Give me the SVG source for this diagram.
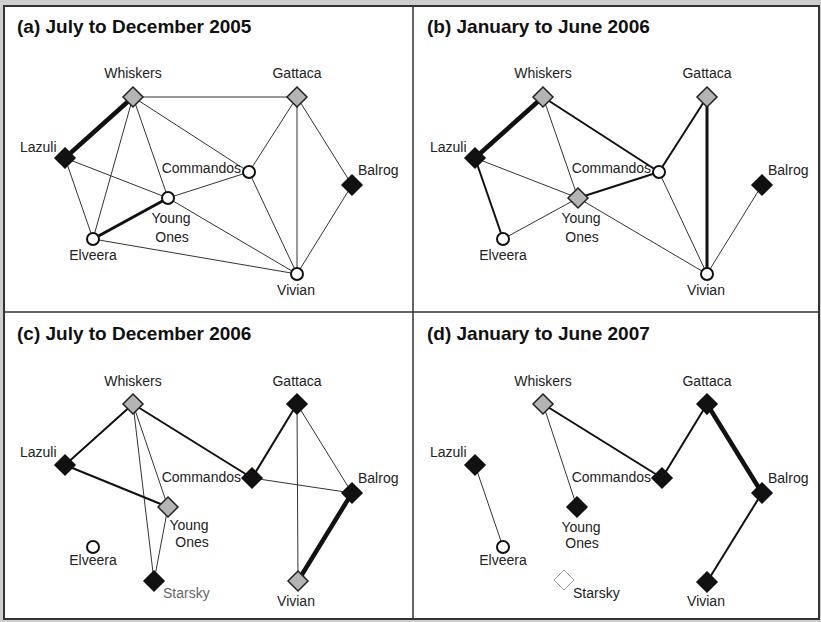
<svg xmlns="http://www.w3.org/2000/svg" xmlns:xlink="http://www.w3.org/1999/xlink" width="821" height="622" viewBox="0 0 821 622">
<style>
.title{font-family:"Liberation Sans",Arial,sans-serif;font-weight:bold;font-size:19px;fill:#111}
.lbl{font-family:"Liberation Sans",Arial,sans-serif;font-size:14px;fill:#222}
.mid{text-anchor:middle}
.end{text-anchor:end}
.faint{fill:#666}
.e1{stroke:#333;stroke-width:1;fill:none}
.e2{stroke:#111;stroke-width:2;fill:none}
.e3{stroke:#111;stroke-width:3;fill:none}
.e4{stroke:#111;stroke-width:4.5;fill:none}
.gray{fill:#b4b4b4;stroke:#222;stroke-width:1.5}
.black{fill:#111;stroke:#111;stroke-width:1.5}
.empty{fill:#fff;stroke:#999;stroke-width:1}
.ring{fill:#fff;stroke:#111;stroke-width:2}
</style>
<defs>
<path id="dia" d="M0,-10 L10,0 L0,10 L-10,0 Z"/>
</defs>
<rect x="0" y="0" width="821" height="622" fill="#cfcfcf"/>
<rect x="4" y="6" width="815" height="613" fill="#fff" stroke="#333" stroke-width="2"/>
<line x1="413" y1="6" x2="413" y2="619" stroke="#333" stroke-width="1.5"/>
<line x1="4" y1="312" x2="819" y2="312" stroke="#333" stroke-width="1.5"/>

<g id="titles">
<text class="title" x="17" y="33">(a) July to December 2005</text>
<text class="title" x="427" y="33">(b) January to June 2006</text>
<text class="title" x="17" y="340">(c) July to December 2006</text>
<text class="title" x="427" y="340">(d) January to June 2007</text>
</g>

<g id="connectors">
<!-- (a) -->
<line class="e1" x1="133" y1="97" x2="297" y2="97"/>
<line class="e4" x1="133" y1="97" x2="65" y2="158"/>
<line class="e1" x1="133" y1="97" x2="93" y2="239"/>
<line class="e1" x1="133" y1="97" x2="168" y2="198"/>
<line class="e1" x1="133" y1="97" x2="249" y2="172"/>
<line class="e1" x1="297" y1="97" x2="249" y2="172"/>
<line class="e1" x1="297" y1="97" x2="297" y2="274"/>
<line class="e1" x1="297" y1="97" x2="352" y2="185"/>
<line class="e1" x1="65" y1="158" x2="168" y2="198"/>
<line class="e1" x1="65" y1="158" x2="93" y2="239"/>
<line class="e3" x1="93" y1="239" x2="168" y2="198"/>
<line class="e1" x1="93" y1="239" x2="297" y2="274"/>
<line class="e1" x1="168" y1="198" x2="249" y2="172"/>
<line class="e1" x1="168" y1="198" x2="297" y2="274"/>
<line class="e1" x1="249" y1="172" x2="297" y2="274"/>
<line class="e1" x1="352" y1="185" x2="297" y2="274"/>
<!-- (b) -->
<line class="e4" x1="543" y1="97" x2="475" y2="158"/>
<line class="e1" x1="543" y1="97" x2="578" y2="198"/>
<line class="e2" x1="543" y1="97" x2="659" y2="172"/>
<line class="e2" x1="707" y1="97" x2="659" y2="172"/>
<line class="e3" x1="707" y1="97" x2="707" y2="274"/>
<line class="e1" x1="475" y1="158" x2="578" y2="198"/>
<line class="e2" x1="475" y1="158" x2="503" y2="239"/>
<line class="e1" x1="503" y1="239" x2="578" y2="198"/>
<line class="e2" x1="578" y1="198" x2="659" y2="172"/>
<line class="e1" x1="578" y1="198" x2="707" y2="274"/>
<line class="e1" x1="659" y1="172" x2="707" y2="274"/>
<line class="e1" x1="762" y1="185" x2="707" y2="274"/>
<!-- (c) -->
<line class="e2" x1="133" y1="404" x2="65" y2="465"/>
<line class="e2" x1="133" y1="404" x2="252" y2="478"/>
<line class="e1" x1="133" y1="404" x2="168" y2="507"/>
<line class="e1" x1="133" y1="404" x2="154" y2="581"/>
<line class="e1" x1="168" y1="507" x2="154" y2="581"/>
<line class="e2" x1="65" y1="465" x2="168" y2="507"/>
<line class="e2" x1="297" y1="404" x2="252" y2="478"/>
<line class="e1" x1="297" y1="404" x2="298" y2="581"/>
<line class="e1" x1="297" y1="404" x2="352" y2="493"/>
<line class="e1" x1="252" y1="478" x2="352" y2="493"/>
<line class="e4" x1="352" y1="493" x2="298" y2="581"/>
<!-- (d) -->
<line class="e1" x1="543" y1="404" x2="577" y2="507"/>
<line class="e2" x1="543" y1="404" x2="662" y2="478"/>
<line class="e2" x1="707" y1="404" x2="662" y2="478"/>
<line class="e4" x1="707" y1="404" x2="762" y2="493"/>
<line class="e2" x1="762" y1="493" x2="707" y2="582"/>
<line class="e1" x1="475" y1="465" x2="503" y2="547"/>
</g>

<!-- (a) nodes -->
<g id="a-whiskers"><use href="#dia" x="133" y="97" class="gray"/><text class="lbl mid" x="133" y="78">Whiskers</text></g>
<g id="a-gattaca"><use href="#dia" x="297" y="97" class="gray"/><text class="lbl mid" x="297" y="78">Gattaca</text></g>
<g id="a-lazuli"><use href="#dia" x="65" y="158" class="black"/><text class="lbl" x="20" y="152">Lazuli</text></g>
<g id="a-commandos"><circle cx="249" cy="172" r="6" class="ring"/><text class="lbl end" x="241" y="173">Commandos</text></g>
<g id="a-balrog"><use href="#dia" x="352" y="185" class="black"/><text class="lbl" x="358" y="175">Balrog</text></g>
<g id="a-youngones"><circle cx="168" cy="198" r="6" class="ring"/><text class="lbl mid" x="171" y="223">Young</text><text class="lbl mid" x="172" y="242">Ones</text></g>
<g id="a-elveera"><circle cx="93" cy="239" r="6" class="ring"/><text class="lbl mid" x="93" y="260">Elveera</text></g>
<g id="a-vivian"><circle cx="297" cy="274" r="6" class="ring"/><text class="lbl mid" x="296" y="295">Vivian</text></g>

<!-- (b) nodes -->
<g id="b-whiskers"><use href="#dia" x="543" y="97" class="gray"/><text class="lbl mid" x="543" y="78">Whiskers</text></g>
<g id="b-gattaca"><use href="#dia" x="707" y="97" class="gray"/><text class="lbl mid" x="707" y="78">Gattaca</text></g>
<g id="b-lazuli"><use href="#dia" x="475" y="158" class="black"/><text class="lbl" x="430" y="152">Lazuli</text></g>
<g id="b-commandos"><circle cx="659" cy="172" r="6" class="ring"/><text class="lbl end" x="651" y="173">Commandos</text></g>
<g id="b-balrog"><use href="#dia" x="762" y="185" class="black"/><text class="lbl" x="768" y="175">Balrog</text></g>
<g id="b-youngones"><use href="#dia" x="578" y="198" class="gray"/><text class="lbl mid" x="581" y="223">Young</text><text class="lbl mid" x="582" y="242">Ones</text></g>
<g id="b-elveera"><circle cx="503" cy="239" r="6" class="ring"/><text class="lbl mid" x="503" y="260">Elveera</text></g>
<g id="b-vivian"><circle cx="707" cy="274" r="6" class="ring"/><text class="lbl mid" x="706" y="295">Vivian</text></g>

<!-- (c) nodes -->
<g id="c-whiskers"><use href="#dia" x="133" y="404" class="gray"/><text class="lbl mid" x="133" y="386">Whiskers</text></g>
<g id="c-gattaca"><use href="#dia" x="297" y="404" class="black"/><text class="lbl mid" x="297" y="386">Gattaca</text></g>
<g id="c-lazuli"><use href="#dia" x="65" y="465" class="black"/><text class="lbl" x="20" y="457">Lazuli</text></g>
<g id="c-commandos"><use href="#dia" x="252" y="478" class="black"/><text class="lbl end" x="241" y="482">Commandos</text></g>
<g id="c-balrog"><use href="#dia" x="352" y="493" class="black"/><text class="lbl" x="358" y="483">Balrog</text></g>
<g id="c-youngones"><use href="#dia" x="168" y="507" class="gray"/><text class="lbl mid" x="189" y="530">Young</text><text class="lbl mid" x="192" y="547">Ones</text></g>
<g id="c-elveera"><circle cx="93" cy="547" r="6" class="ring"/><text class="lbl mid" x="93" y="565">Elveera</text></g>
<g id="c-starsky"><use href="#dia" x="154" y="581" class="black"/><text class="lbl faint" x="163" y="598">Starsky</text></g>
<g id="c-vivian"><use href="#dia" x="298" y="581" class="gray"/><text class="lbl mid" x="296" y="606">Vivian</text></g>

<!-- (d) nodes -->
<g id="d-whiskers"><use href="#dia" x="543" y="404" class="gray"/><text class="lbl mid" x="543" y="386">Whiskers</text></g>
<g id="d-gattaca"><use href="#dia" x="707" y="404" class="black"/><text class="lbl mid" x="707" y="386">Gattaca</text></g>
<g id="d-lazuli"><use href="#dia" x="475" y="465" class="black"/><text class="lbl" x="430" y="457">Lazuli</text></g>
<g id="d-commandos"><use href="#dia" x="662" y="478" class="black"/><text class="lbl end" x="651" y="482">Commandos</text></g>
<g id="d-balrog"><use href="#dia" x="762" y="493" class="black"/><text class="lbl" x="768" y="483">Balrog</text></g>
<g id="d-youngones"><use href="#dia" x="577" y="507" class="black"/><text class="lbl mid" x="581" y="532">Young</text><text class="lbl mid" x="582" y="548">Ones</text></g>
<g id="d-elveera"><circle cx="503" cy="547" r="6" class="ring"/><text class="lbl mid" x="503" y="565">Elveera</text></g>
<g id="d-starsky"><use href="#dia" x="564" y="580" class="empty"/><text class="lbl" x="573" y="598">Starsky</text></g>
<g id="d-vivian"><use href="#dia" x="707" y="582" class="black"/><text class="lbl mid" x="706" y="606">Vivian</text></g>
</svg>
